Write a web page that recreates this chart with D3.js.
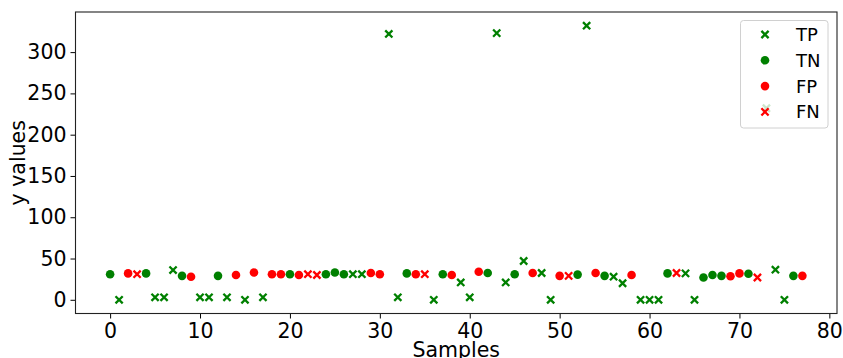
<!DOCTYPE html>
<html>
<head>
<meta charset="utf-8">
<script src="https://cdn.jsdelivr.net/npm/d3@7"></script>
<style>
  html, body { margin: 0; padding: 0; background: #fff; }
  svg { display: block; font-family: "DejaVu Sans", sans-serif; }
</style>
</head>
<body>
<svg id="chart" width="843" height="358"></svg>
<script>
// Outcome class of every sample (index = sample number)
const outcomes = [
  "TN","TP","FP","FN","TN","TP","TP","TP","TN","FP",
  "TP","TP","TN","TP","FP","TP","FP","TP","FP","FP",
  "TN","FP","FN","FN","TN","TN","TN","TP","TP","FP",
  "FP","TP","TP","TN","FP","FN","TP","TN","FP","TP",
  "TP","FP","TN","TP","TP","TN","TP","FP","TP","TP",
  "FP","FN","TN","TP","FP","TN","TP","TP","FP","TP",
  "TP","TP","TN","FN","TP","TP","TN","TN","TN","FP",
  "FP","TN","FN","TP","TP","TP","TN","FP"
];
// y value of every sample
const yValues = [
  31, 0, 32, 31, 32, 3, 3, 36, 29, 28,
  3, 3, 29, 3, 30, 0, 33, 3, 31, 31,
  31, 30, 31, 30, 31, 33, 31, 31, 31, 32.5,
  31, 322, 3, 32, 31, 31, 0, 31, 30, 21,
  3, 34, 32.5, 323, 21, 31, 47, 32.5, 32.5, 0,
  29, 29, 30.5, 332, 32.5, 29, 28, 20, 30, 0,
  0, 0, 32, 32.5, 32, 0, 27, 30, 29, 28.5,
  32, 31.5, 27, 232, 36.5, 0, 29, 29
];
const seriesNames = ["TP", "TN", "FP", "FN"];
const xTicks = [0, 10, 20, 30, 40, 50, 60, 70, 80];
const yTicks = [0, 50, 100, 150, 200, 250, 300];

const style = {
  TP: { color: "green", shape: "x" },
  TN: { color: "green", shape: "o" },
  FP: { color: "red",   shape: "o" },
  FN: { color: "red",   shape: "x" }
};

const svg = d3.select("#chart");
const plot = { left: 75.5, right: 837, top: 12, bottom: 313.5 };

const samples = yValues.map((v, i) => ({ i, v, cls: outcomes[i] }));
const n = samples.length - 1;
const yMax = d3.max(yValues), yMin = d3.min(yValues);
const xPad = n * 0.05, yPad = (yMax - yMin) * 0.05;

const x = d3.scaleLinear().domain([-xPad, n + xPad]).range([plot.left, plot.right]);
const y = d3.scaleLinear().domain([yMin - yPad, yMax + yPad]).range([plot.bottom, plot.top]);

// Axes
const xAxis = d3.axisBottom(x).tickValues(xTicks).tickSize(5).tickPadding(4);
const yAxis = d3.axisLeft(y).tickValues(yTicks).tickSize(5).tickPadding(4);

const gx = svg.append("g").attr("transform", `translate(0,${plot.bottom})`).call(xAxis);
const gy = svg.append("g").attr("transform", `translate(${plot.left},0)`).call(yAxis);
[gx, gy].forEach(g => {
  g.select(".domain").remove();
  g.selectAll(".tick line").attr("stroke", "#000").attr("stroke-width", 1);
  g.selectAll(".tick text").attr("fill", "#000").attr("font-size", 20.5)
    .attr("font-family", "DejaVu Sans, sans-serif");
});
gx.selectAll(".tick text").attr("dy", "0.76em");

// Points
const markers = svg.append("g");
function drawMarker(g, cx, cy, s) {
  if (s.shape === "o") {
    g.append("circle").attr("cx", cx).attr("cy", cy).attr("r", 4.3).attr("fill", s.color);
  } else {
    const a = 3.6;
    g.append("path")
      .attr("d", `M${cx - a},${cy - a}L${cx + a},${cy + a}M${cx - a},${cy + a}L${cx + a},${cy - a}`)
      .attr("stroke", s.color).attr("stroke-width", 2.3).attr("fill", "none");
  }
}
seriesNames.forEach(name => {
  samples.filter(d => d.cls === name).forEach(d => drawMarker(markers, x(d.i), y(d.v), style[name]));
});

// Frame
svg.append("rect")
  .attr("x", plot.left).attr("y", plot.top)
  .attr("width", plot.right - plot.left).attr("height", plot.bottom - plot.top)
  .attr("fill", "none").attr("stroke", "#222").attr("stroke-width", 1.1);

// Axis titles
svg.append("text").attr("x", (plot.left + plot.right) / 2).attr("y", 356.5)
  .attr("text-anchor", "middle").attr("font-size", 20.5).text("Samples");
svg.append("text")
  .attr("transform", `translate(25,${(plot.top + plot.bottom) / 2}) rotate(-90)`)
  .attr("text-anchor", "middle").attr("font-size", 20.5).text("y values");

// Legend
const lg = svg.append("g");
lg.append("rect").attr("x", 740.5).attr("y", 20.5).attr("width", 87.5).attr("height", 107.5)
  .attr("rx", 3).attr("fill", "#fff").attr("fill-opacity", 0.8)
  .attr("stroke", "#d0d0d0").attr("stroke-width", 1);
seriesNames.forEach((name, k) => {
  const cy = 34.5 + k * 25.8;
  drawMarker(lg, 765, cy, style[name]);
  lg.append("text").attr("x", 796).attr("y", cy).attr("dy", "0.36em")
    .attr("font-size", 18).text(name);
});
</script>
</body>
</html>
